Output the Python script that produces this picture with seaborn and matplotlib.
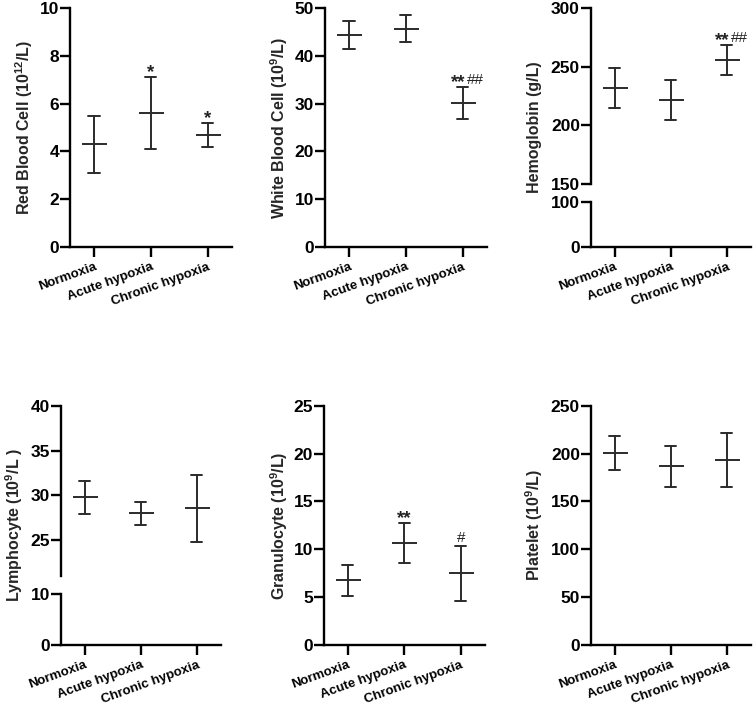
import numpy as np
import pandas as pd
import matplotlib
matplotlib.use("Agg")
import matplotlib.pyplot as plt
import seaborn as sns

# ---------------- data ----------------
groups = ["Normoxia", "Acute hypoxia", "Chronic hypoxia"]

rbc_mean = [4.3, 5.6, 4.7]
rbc_low = [3.1, 4.1, 4.2]
rbc_high = [5.5, 7.1, 5.2]

wbc_mean = [44.3, 45.7, 30.1]
wbc_low = [41.4, 42.8, 26.7]
wbc_high = [47.2, 48.5, 33.5]

hb_mean = [231.6, 221.6, 255.7]
hb_low = [215.0, 204.2, 242.6]
hb_high = [248.6, 238.3, 268.7]

lym_mean = [29.8, 28.0, 28.6]
lym_low = [27.9, 26.7, 24.8]
lym_high = [31.6, 29.3, 32.3]

gra_mean = [6.76, 10.66, 7.49]
gra_low = [5.12, 8.57, 4.6]
gra_high = [8.39, 12.75, 10.38]

plt_mean = [200.6, 186.7, 193.6]
plt_low = [183.2, 165.4, 165.4]
plt_high = [218.4, 207.9, 221.8]

rbc_stars = ["", "*", "*"]
rbc_hash = ["", "", ""]
wbc_stars = ["", "", "**"]
wbc_hash = ["", "", "##"]
hb_stars = ["", "", "**"]
hb_hash = ["", "", "##"]
gra_stars = ["", "**", ""]
gra_hash = ["", "", "#"]
none_marks = ["", "", ""]

rbc_label = "Red Blood Cell (10$^{12}$/L)"
wbc_label = "White Blood Cell (10$^{9}$/L)"
hb_label = "Hemoglobin (g/L)"
lym_label = "Lymphocyte (10$^{9}$/L )"
gra_label = "Granulocyte (10$^{9}$/L)"
plt_label = "Platelet (10$^{9}$/L)"

# ---------------- style ----------------
sns.set_style("ticks")
plt.rcParams["font.family"] = ["Liberation Sans", "DejaVu Sans"]
plt.rcParams["font.weight"] = "bold"
plt.rcParams["mathtext.fontset"] = "custom"
plt.rcParams["mathtext.rm"] = "Liberation Sans:bold"
plt.rcParams["mathtext.default"] = "rm"

W, H = 754, 706
fig = plt.figure(figsize=(W / 100, H / 100), dpi=100)

BAR_COLOR = "#2b2b2b"
SPINE_W = 1.7


def rect(l, r, top, bottom):
    return [l / W, 1 - bottom / H, (r - l) / W, (bottom - top) / H]


def style_axis(ax, show_x=True):
    for s in ["top", "right"]:
        ax.spines[s].set_visible(False)
    ax.spines["left"].set_linewidth(SPINE_W)
    ax.spines["bottom"].set_linewidth(SPINE_W)
    ax.spines["left"].set_color("black")
    ax.spines["bottom"].set_color("black")
    ax.tick_params(axis="y", length=7, width=SPINE_W, pad=1, labelsize=12.5, colors="black")
    ax.tick_params(axis="x", length=7, width=SPINE_W, pad=3, labelsize=9.5, colors="black")
    for t in ax.get_yticklabels():
        t.set_fontweight("bold")
    if not show_x:
        ax.spines["bottom"].set_visible(False)
        ax.tick_params(axis="x", bottom=False, labelbottom=False)


def set_xcats(ax, xlim):
    ax.set_xlim(*xlim)
    ax.set_xticks(range(len(groups)))
    ax.set_xticklabels(groups, rotation=20, ha="right", rotation_mode="anchor",
                       fontweight="bold", fontsize=9.5)
    ax.set_xlabel("")


def draw_points(ax, mean, low, high):
    df = pd.DataFrame({
        "group": [g for g in groups for _ in range(3)],
        "value": [v for trio in zip(low, mean, high) for v in trio],
    })
    sns.pointplot(data=df, x="group", y="value", order=groups, estimator="median",
                  errorbar=("pi", 100), capsize=0.2, color=BAR_COLOR,
                  marker="_", markersize=18, markeredgewidth=1.4, linestyle="none",
                  err_kws={"linewidth": 1.4, "color": BAR_COLOR}, ax=ax)
    ax.set_xlabel("")
    ax.set_ylabel("")


def annotate(ax, high, stars, hashes):
    for i in range(len(groups)):
        s, h = stars[i], hashes[i]
        if s and h:
            ax.annotate(s, (i, high[i]), xytext=(3, 0), textcoords="offset pixels",
                        ha="right", va="baseline", fontsize=13.5, fontweight="bold",
                        color="#222222")
            ax.annotate(h, (i, high[i]), xytext=(4, 3), textcoords="offset pixels",
                        ha="left", va="baseline", fontsize=11, fontweight="normal",
                        color="#222222")
        elif s:
            ax.annotate(s, (i, high[i]), xytext=(0, 0), textcoords="offset pixels",
                        ha="center", va="baseline", fontsize=13.5, fontweight="bold",
                        color="#222222")
        elif h:
            ax.annotate(h, (i, high[i]), xytext=(0, 4), textcoords="offset pixels",
                        ha="center", va="baseline", fontsize=11, fontweight="normal",
                        color="#222222")


def ylabel(text, x_px, top_px, bottom_px):
    fig.text(x_px / W, 1 - ((top_px + bottom_px) / 2) / H, text, rotation=90,
             ha="center", va="center", fontsize=11.5, fontweight="bold")


XLIM = (-0.42, 2.43)

# ---------- simple panels ----------
simple = [
    (70, 232, 8, 247, rbc_mean, rbc_low, rbc_high, (0, 10), [0, 2, 4, 6, 8, 10],
     rbc_stars, rbc_hash, rbc_label, 46),
    (325, 487, 8, 247, wbc_mean, wbc_low, wbc_high, (0, 50), [0, 10, 20, 30, 40, 50],
     wbc_stars, wbc_hash, wbc_label, 46),
    (324, 485, 405.7, 645, gra_mean, gra_low, gra_high, (0, 25), [0, 5, 10, 15, 20, 25],
     gra_stars, gra_hash, gra_label, 45),
    (591, 751, 405.7, 645, plt_mean, plt_low, plt_high, (0, 250), [0, 50, 100, 150, 200, 250],
     none_marks, none_marks, plt_label, 57),
]
for (l, r, t, b, mean, low, high, ylim, yticks, st, hs, lab, off) in simple:
    ax = fig.add_axes(rect(l, r, t, b))
    draw_points(ax, mean, low, high)
    set_xcats(ax, XLIM)
    ax.set_ylim(*ylim)
    ax.set_yticks(yticks)
    style_axis(ax)
    annotate(ax, high, st, hs)
    ylabel(lab, l - off, t, b)

# ---------- broken-axis panels ----------
broken = [
    (591, 751, (8, 184), (202, 247), hb_mean, hb_low, hb_high,
     (150, 300), [150, 200, 250, 300], (0, 100), [0, 100],
     hb_stars, hb_hash, hb_label, 57),
    (61, 221, (405.7, 576), (594.3, 645), lym_mean, lym_low, lym_high,
     (21, 40), [25, 30, 35, 40], (0, 10), [0, 10],
     none_marks, none_marks, lym_label, 47),
]
for (l, r, (t1, b1), (t2, b2), mean, low, high, ylim1, yt1, ylim2, yt2, st, hs, lab, off) in broken:
    ax_top = fig.add_axes(rect(l, r, t1, b1))
    draw_points(ax_top, mean, low, high)
    ax_top.set_xlim(*XLIM)
    ax_top.set_ylim(*ylim1)
    ax_top.set_yticks(yt1)
    style_axis(ax_top, show_x=False)
    annotate(ax_top, high, st, hs)

    ax_bot = fig.add_axes(rect(l, r, t2, b2))
    set_xcats(ax_bot, XLIM)
    ax_bot.set_ylim(*ylim2)
    ax_bot.set_yticks(yt2)
    style_axis(ax_bot)
    ylabel(lab, l - off, t1, b2)

fig.savefig("out.png", dpi=100, facecolor="white")
